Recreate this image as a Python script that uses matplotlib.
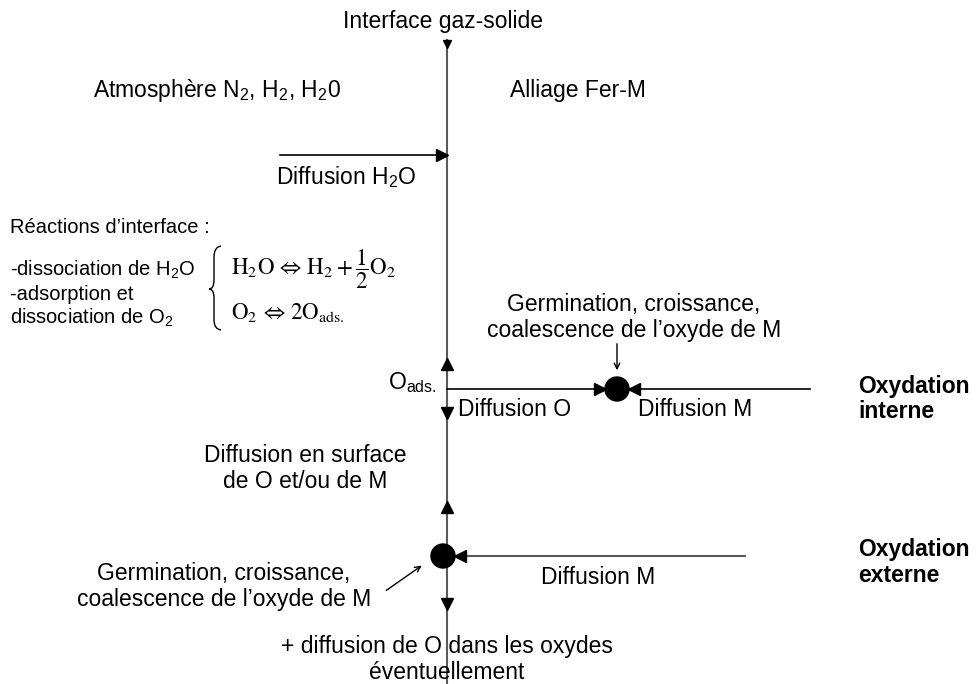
"""Schema: oxydation interne / externe d'un alliage Fer-M."""
import matplotlib
matplotlib.use('Agg')
import matplotlib.pyplot as plt
from matplotlib.path import Path
from matplotlib.patches import PathPatch, Circle

plt.rcParams['font.family'] = ['Liberation Sans', 'DejaVu Sans']
plt.rcParams['mathtext.fontset'] = 'custom'
plt.rcParams['mathtext.rm'] = 'Liberation Serif'
plt.rcParams['mathtext.it'] = 'Liberation Serif:italic'
plt.rcParams['mathtext.sf'] = 'Liberation Sans'
plt.rcParams['mathtext.default'] = 'regular'

# texts
title_txt = 'Interface gaz-solide'
gas_txt = r'Atmosphère N$_2$, H$_2$, H$_2$0'
alloy_txt = 'Alliage Fer-M'
diff_h2o_txt = r'Diffusion H$_2$O'
reac_lines = ["Réactions d’interface :", r'-dissociation de H$_2$O',
              '-adsorption et', r'dissociation de O$_2$']
eq_lines = [r'$\mathrm{H_2O\,\Leftrightarrow\,H_2 + \dfrac{1}{2}O_2}$',
            r'$\mathrm{O_2\,\Leftrightarrow\,2O_{ads.}}$']
germ_lines = ['Germination, croissance,', 'coalescence de l’oxyde de M']
surf_lines = ['Diffusion en surface', 'de O et/ou de M']
bottom_lines = ['+ diffusion de O dans les oxydes', 'éventuellement']
oxy_int = ['Oxydation', 'interne']
oxy_ext = ['Oxydation', 'externe']

BIG = 16.5
SMALL = 14.5
EQ = 16.5

fig = plt.figure(figsize=(9.77, 6.84), dpi=100)
ax = fig.add_axes([0, 0, 1, 1])
ax.set_xlim(0, 977)
ax.set_ylim(684, 0)
ax.axis('off')

LINE = '#5a5a5a'
X0 = 447

# interface line
ax.plot([X0, X0], [40, 684], color=LINE, lw=1.5, zorder=1)
ax.plot([X0], [44], marker='v', color='black', ms=6, zorder=3)

# H2O diffusion arrow
ax.plot([280, X0], [155, 155], color='black', lw=1.2)
ax.plot([X0 - 5], [155], marker='>', color='black', ms=8)

# internal oxidation row
ax.plot([X0, 810], [389, 389], color='black', lw=1.2)
ax.add_patch(Circle((617, 389), 12, color='black', zorder=4))
ax.plot([600], [389], marker='>', color='black', ms=8, zorder=5)
ax.plot([634], [389], marker='<', color='black', ms=8, zorder=5)
ax.annotate('', xy=(617, 373), xytext=(617, 341),
            arrowprops=dict(arrowstyle='->', color='black', lw=1.0))
ax.plot([X0], [364], marker='^', color='black', ms=8, zorder=3)
ax.plot([X0], [413], marker='v', color='black', ms=8, zorder=3)

# external oxidation row
ax.plot([455, 745], [556, 556], color=LINE, lw=1.5)
ax.add_patch(Circle((443, 556), 12, color='black', zorder=4))
ax.plot([460], [556], marker='<', color='black', ms=8, zorder=5)
ax.plot([X0], [507], marker='^', color='black', ms=8, zorder=3)
ax.plot([X0], [604], marker='v', color='black', ms=8, zorder=3)
ax.annotate('', xy=(424, 564), xytext=(384, 592),
            arrowprops=dict(arrowstyle='->', color='black', lw=1.0))

# brace
verts = [(221, 246), (214, 247), (214, 257), (214, 280), (214, 289),
         (209, 289), (214, 289), (214, 298), (214, 320), (214, 329),
         (221, 330)]
codes = [Path.MOVETO, Path.CURVE3, Path.CURVE3, Path.LINETO, Path.CURVE3,
         Path.CURVE3, Path.CURVE3, Path.CURVE3, Path.LINETO, Path.CURVE3,
         Path.CURVE3]
ax.add_patch(PathPatch(Path(verts, codes), fill=False, lw=1.0, color='black'))

# texts
ax.text(443, 28, title_txt, fontsize=BIG, ha='center', va='baseline')
ax.text(93, 97, gas_txt, fontsize=BIG, va='baseline')
ax.text(510, 97, alloy_txt, fontsize=BIG, va='baseline')
ax.text(276, 184, diff_h2o_txt, fontsize=BIG, va='baseline')

for txt, yb in zip(reac_lines, [233, 276, 300, 324]):
    ax.text(10, yb, txt, fontsize=SMALL, va='baseline')
ax.text(231, 275, eq_lines[0], fontsize=EQ, va='baseline',
        math_fontfamily='stix')
ax.text(231, 320, eq_lines[1], fontsize=EQ, va='baseline',
        math_fontfamily='stix')

for txt, yb in zip(germ_lines, [311, 337]):
    ax.text(634, yb, txt, fontsize=BIG, ha='center', va='baseline')
ax.text(388, 389, r'O$_{ads.}$', fontsize=BIG, va='baseline')
ax.text(458, 416, 'Diffusion O', fontsize=BIG, va='baseline')
ax.text(638, 416, 'Diffusion M', fontsize=BIG, va='baseline')
for txt, yb in zip(oxy_int, [393, 418]):
    ax.text(858, yb, txt, fontsize=BIG, fontweight='bold', va='baseline')

for txt, yb in zip(surf_lines, [462, 488]):
    ax.text(305, yb, txt, fontsize=BIG, ha='center', va='baseline')

for txt, yb in zip(germ_lines, [580, 606]):
    ax.text(224, yb, txt, fontsize=BIG, ha='center', va='baseline')
ax.text(541, 584, 'Diffusion M', fontsize=BIG, va='baseline')
for txt, yb in zip(oxy_ext, [556, 582]):
    ax.text(858, yb, txt, fontsize=BIG, fontweight='bold', va='baseline')

for txt, yb in zip(bottom_lines, [653, 679]):
    ax.text(447, yb, txt, fontsize=BIG, ha='center', va='baseline')

fig.savefig('out.png', dpi=100)
